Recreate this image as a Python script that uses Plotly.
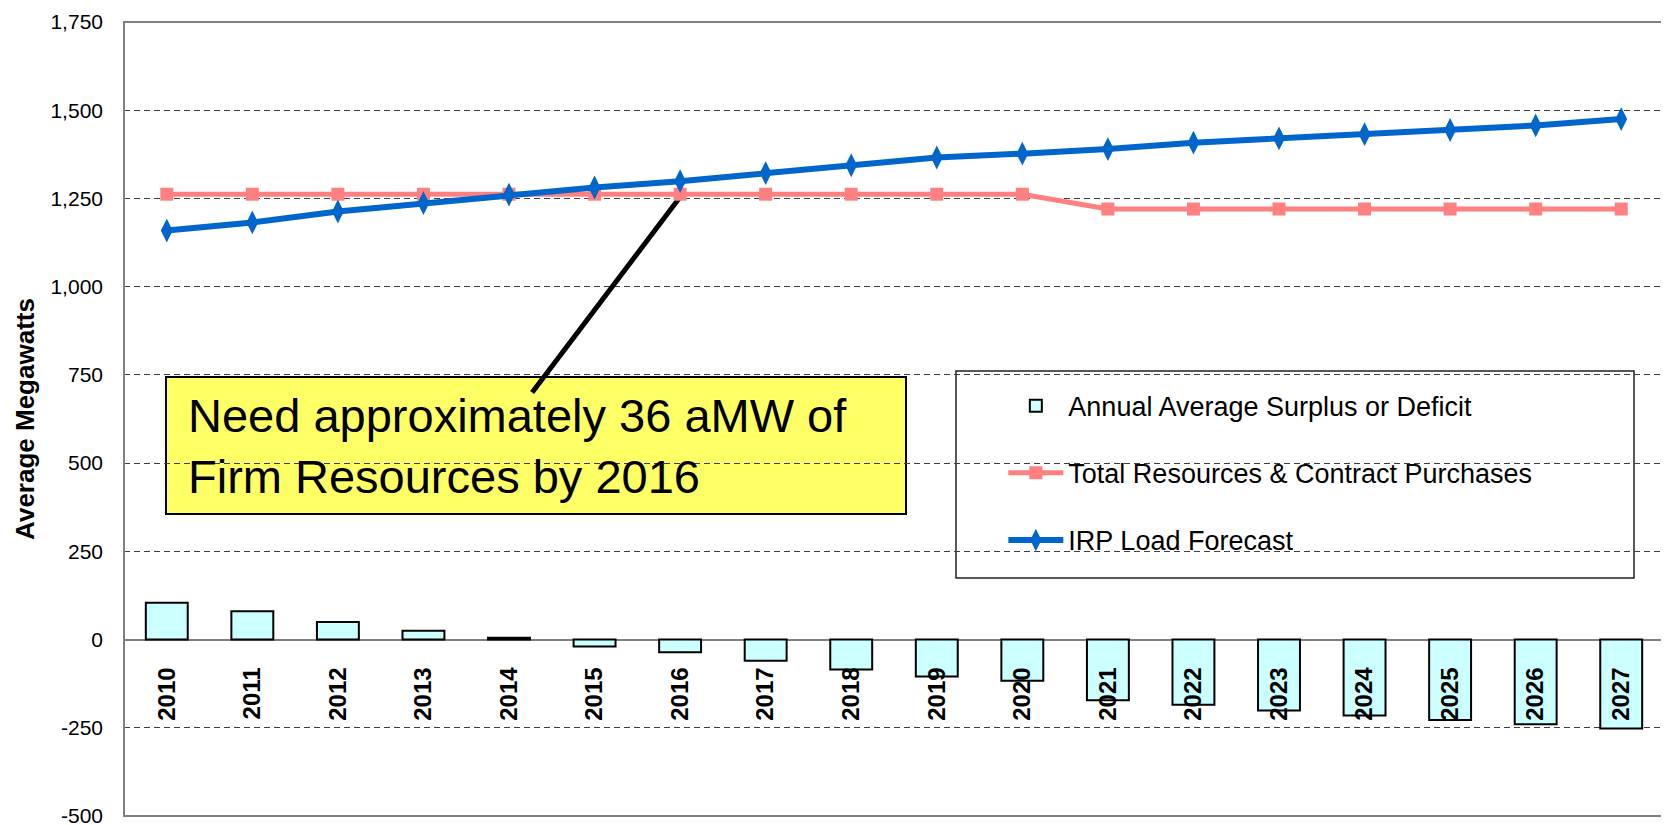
import plotly.graph_objects as go

years = ["2010", "2011", "2012", "2013", "2014", "2015", "2016", "2017", "2018",
         "2019", "2020", "2021", "2022", "2023", "2024", "2025", "2026", "2027"]
surplus = [104, 80, 50, 25, 5, -20, -36, -60, -85, -105, -117, -172, -185, -201,
           -215, -228, -240, -252]
resources = [1262, 1262, 1262, 1262, 1262, 1262, 1262, 1262, 1262, 1262, 1262,
             1220, 1220, 1220, 1220, 1220, 1220, 1220]
load = [1159, 1182, 1213, 1237, 1261, 1281, 1299, 1322, 1344, 1366, 1377, 1390,
        1408, 1420, 1432, 1444, 1457, 1475]
y_tick_vals = [-500, -250, 0, 250, 500, 750, 1000, 1250, 1500, 1750]
y_tick_text = ["-500", "-250", "0", "250", "500", "750", "1,000", "1,250", "1,500", "1,750"]

FONT = "Arial, Liberation Sans, sans-serif"
Y_MIN, Y_MAX = -500, 1750

# page layout helpers (plot area in page pixels; page body has an 8px margin)
PL, PR, PT, PB = 124, 1664, 22, 816
W, H = 1669, 825
OFF = 8


def px(xp):
    return (xp - PL) / (PR - PL)


def py(yp):
    return (PB - yp) / (PB - PT)


fig = go.Figure()
fig.add_trace(go.Bar(
    x=years, y=surplus, name="Annual Average Surplus or Deficit",
    marker=dict(color="#CCFFFF", line=dict(color="black", width=2)),
    legendgroup="g1"))
fig.add_trace(go.Scatter(
    x=years, y=resources, mode="lines+markers",
    name="Total Resources & Contract Purchases",
    line=dict(color="#FF8080", width=5),
    marker=dict(symbol="square", size=13, color="#FF8080"),
    legendgroup="g2"))
fig.add_trace(go.Scatter(
    x=years, y=load, mode="lines+markers", name="IRP Load Forecast",
    line=dict(color="#0066CC", width=6),
    marker=dict(symbol="diamond-tall", size=17, color="#0066CC"),
    legendgroup="g3"))

zero_pos = (0 - Y_MIN) / (Y_MAX - Y_MIN)

fig.update_layout(
    width=W, height=H,
    margin=dict(l=PL - OFF, r=W + OFF - PR, t=PT - OFF, b=H + OFF - PB),
    paper_bgcolor="white", plot_bgcolor="white",
    font=dict(family=FONT, color="black"),
    bargap=0.51,
    showlegend=True,
    legend=dict(
        x=0.571, y=0.547, xanchor="left", yanchor="top",
        bgcolor="rgba(0,0,0,0)", borderwidth=0,
        font=dict(size=27, family=FONT),
        tracegroupgap=29, itemwidth=55,
    ),
    xaxis=dict(
        type="category", range=[-0.5, len(years) - 0.5],
        anchor="free", position=zero_pos, automargin=False,
        showline=False, showgrid=False, ticks="",
        tickangle=-90, ticklabelstandoff=22,
        tickfont=dict(size=24, family=FONT, weight="bold"),
    ),
    yaxis=dict(
        range=[Y_MIN, Y_MAX], tickvals=y_tick_vals, ticktext=y_tick_text,
        automargin=False,
        showgrid=True, gridcolor="#404040", gridwidth=1, griddash="6px,4px",
        zeroline=True, zerolinecolor="#808080", zerolinewidth=2,
        showline=False, ticks="", ticklabelstandoff=20,
        tickfont=dict(size=21, family=FONT),
        title=dict(text="<b>Average Megawatts</b>", font=dict(size=26, family=FONT),
                   standoff=8),
    ),
)

# callout line from the box to the 2016 point
i16 = years.index("2016")
fig.add_shape(type="line", xref="x", yref="y", x0=i16, y0=resources[i16] - 8,
              x1=4.27, y1=700, line=dict(color="black", width=5), layer="between")
# yellow callout box
fig.add_shape(type="rect", xref="paper", yref="paper",
              x0=px(166), x1=px(906), y0=py(514), y1=py(377),
              line=dict(color="black", width=2), fillcolor="#FFFF66", layer="between")
# legend frame
fig.add_shape(type="rect", xref="paper", yref="paper", x0=px(956), x1=px(1634),
              y0=py(578), y1=py(371), line=dict(color="#222222", width=1.5),
              fillcolor="white", layer="between")
# plot frame
fig.add_shape(type="rect", xref="paper", yref="paper", x0=0, x1=1, y0=0, y1=1,
              line=dict(color="#808080", width=2), layer="above")

fig.add_annotation(
    xref="paper", yref="paper", x=px(186), y=py(446),
    xanchor="left", yanchor="middle", showarrow=False, align="left",
    text="Need approximately 36 aMW of<br>Firm Resources by 2016",
    font=dict(size=47, family=FONT, color="black"))

fig.write_html("out.html")
